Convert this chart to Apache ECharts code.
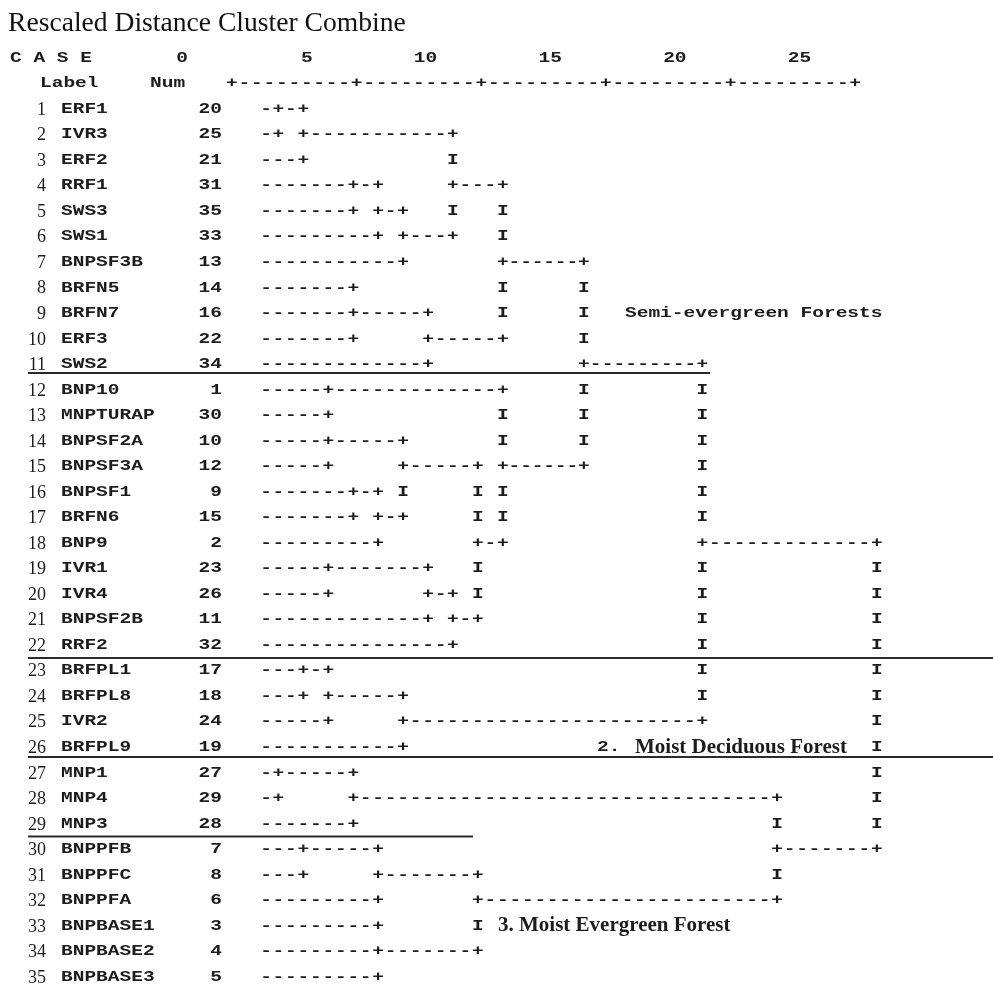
<!DOCTYPE html>
<html>
<head>
<meta charset="utf-8">
<script src="https://cdn.jsdelivr.net/npm/echarts@6/dist/echarts.min.js"></script>
<style>
html,body{margin:0;padding:0;background:#ffffff;}
#chart{width:993px;height:987px;}
</style>
</head>
<body>
<div id="chart"></div>
<script>
// ---------------- DATA ----------------
const caseLabels = ['ERF1','IVR3','ERF2','RRF1','SWS3','SWS1','BNPSF3B','BRFN5','BRFN7','ERF3','SWS2',
  'BNP10','MNPTURAP','BNPSF2A','BNPSF3A','BNPSF1','BRFN6','BNP9','IVR1','IVR4','BNPSF2B','RRF2',
  'BRFPL1','BRFPL8','IVR2','BRFPL9','MNP1','MNP4','MNP3','BNPPFB','BNPPFC','BNPPFA',
  'BNPBASE1','BNPBASE2','BNPBASE3'];
const caseNums = [20,25,21,31,35,33,13,14,16,22,34,1,30,10,12,9,15,2,23,26,11,32,17,18,24,19,27,29,28,7,8,6,3,4,5];

// agglomeration steps: cases (by row position) combined and rescaled distance of the join
const mergeA = [1,1,4,4,4,1,8,8,8,1,12,14,16,16,14,19,19,19,14,12,1,23,23,23,1,27,27,30,30,33,33,30,27,1];
const mergeB = [2,3,5,6,7,4,9,10,11,8,13,15,17,18,16,20,21,22,19,14,12,24,25,26,23,28,29,31,32,34,35,33,30,27];
const mergeDist = [0.5,1.5,3.5,4.5,5.5,7.5,3.5,3.5,6.5,9.5,2.5,2.5,3.5,4.5,5.5,2.5,6.5,7.5,8.5,9.5,
  12.75,1.5,2.5,5.5,17.5,0.5,3.5,1.5,4.5,4.5,4.5,8.5,20.5,24.5];

const tickValues = [0,5,10,15,20,25];
const tickLabels = ['0','5','10','15','20','25'];

const groupBreakRows = [11,22,26,29];
const noteRows = [9,26,26,33];
const noteTexts = ['Semi-evergreen Forests','2.','Moist Deciduous Forest','3. Moist Evergreen Forest'];

// ---------------- STYLE / LAYOUT ----------------
const INK = '#1c1c1c';
const MONO = 'bold 15px "Liberation Mono", "DejaVu Sans Mono", monospace';
const MONO_SX = 1.3;
const SERIF_N = 'normal 18px "Liberation Serif", "DejaVu Serif", serif';
const SERIF_B = 'bold 21px "Liberation Serif", "DejaVu Serif", serif';
const SCALE_SHIFT = 1.365;      // printed scale sits left of the case lines
const TICKLABEL_DX = -44;       // printed tick numbers sit left of their '+'
const sepEndX = [710, 993, 993, 473];
const sepDy = [-4, 0, -3, 0];
const noteX = [625, 597, 635, 498];
const noteFont = [MONO, MONO, SERIF_B, SERIF_B];
const noteSX = [MONO_SX, MONO_SX, 1, 1];

// ---------------- BUILD DENDROGRAM GLYPHS ----------------
function buildGlyphs() {
  const n = caseLabels.length;
  const owner = [];
  for (let r = 1; r <= n; r++) owner[r] = {out: r, end: null};
  const map = new Map();
  const put = (d, row, ch) => map.set(d.toFixed(4) + '|' + row, {d, row, ch});
  function horiz(c, d) {
    if (c.end === d) return;
    const start = c.end === null ? -0.5 : c.end;
    const nd = Math.round((d - start) / 0.5) - 1;
    const step = (d - start) / (nd + 1);
    for (let k = 1; k <= nd; k++) put(start + k * step, c.out, '-');
    put(d, c.out, '+');
  }
  mergeA.forEach((a, i) => {
    const b = mergeB[i], d = mergeDist[i];
    const A = owner[a], B = owner[b];
    const top = A.out < B.out ? A : B, bot = A.out < B.out ? B : A;
    horiz(top, d); horiz(bot, d);
    const root = i === mergeA.length - 1;
    const m = Math.floor((top.out + bot.out) / 2);
    for (let r = top.out + 1; r < bot.out; r++) put(d, r, (r === m && !root) ? '+' : 'I');
    const nc = {out: m, end: d};
    for (let r = 1; r <= n; r++) if (owner[r] === A || owner[r] === B) owner[r] = nc;
  });
  // printed scale line
  const lo = tickValues[0], hi = tickValues[tickValues.length - 1];
  for (let v = lo; v <= hi + 1e-9; v += 0.5) {
    const isTick = tickValues.indexOf(v) >= 0;
    put(v - SCALE_SHIFT, 0, isTick ? '+' : '-');
  }
  return Array.from(map.values());
}
const glyphs = buildGlyphs();

function txt(x, y, s, font, align, sx) {
  return {
    type: 'text', x: x, y: y, scaleX: sx || 1,
    style: {text: s, font: font, fill: INK,
      textAlign: align || 'center', textVerticalAlign: 'middle',
      align: align || 'center', verticalAlign: 'middle'}
  };
}

const chart = echarts.init(document.getElementById('chart'), null, {renderer: 'canvas'});
chart.setOption({
  animation: false,
  backgroundColor: '#ffffff',
  title: {
    text: 'Rescaled Distance Cluster Combine',
    left: 8, top: 10, padding: 0,
    textStyle: {fontFamily: '"Liberation Serif", "DejaVu Serif", serif', fontSize: 27.6, fontWeight: 'normal', color: '#111'}
  },
  grid: {left: 216.14, right: 103.75, top: 45.2, bottom: 10},
  xAxis: {type: 'value', min: -2, max: 25, show: false},
  yAxis: {type: 'value', min: -1.5, max: 35, inverse: true, show: false},
  series: [
    {
      type: 'custom', silent: true,
      data: glyphs.map(g => [g.d, g.row]),
      renderItem: function (params, api) {
        const p = api.coord([api.value(0), api.value(1)]);
        return txt(p[0], p[1], glyphs[params.dataIndex].ch, MONO, 'center', MONO_SX);
      }
    },
    {
      type: 'custom', silent: true,
      data: caseLabels.map((l, i) => [0, i + 1]),
      renderItem: function (params, api) {
        const i = params.dataIndex;
        const y = api.coord([0, api.value(1)])[1];
        return {type: 'group', children: [
          txt(46, y + 1, String(i + 1), SERIF_N, 'right', 1),
          txt(61, y, caseLabels[i], MONO, 'left', MONO_SX),
          txt(222, y, String(caseNums[i]), MONO, 'right', MONO_SX)
        ]};
      }
    },
    {
      type: 'custom', silent: true,
      data: tickValues.map(v => [v - SCALE_SHIFT, -1]),
      renderItem: function (params, api) {
        const p = api.coord([api.value(0), api.value(1)]);
        const kids = [txt(p[0] + TICKLABEL_DX, p[1], tickLabels[params.dataIndex], MONO, 'right', MONO_SX)];
        if (params.dataIndex === 0) {
          const y0 = api.coord([0, 0])[1];
          kids.push(txt(10, p[1], 'C A S E', MONO, 'left', MONO_SX));
          kids.push(txt(40, y0, 'Label', MONO, 'left', MONO_SX));
          kids.push(txt(150, y0, 'Num', MONO, 'left', MONO_SX));
        }
        return {type: 'group', children: kids};
      }
    },
    {
      type: 'custom', silent: true,
      data: groupBreakRows.map(r => [0, r + 0.5]),
      renderItem: function (params, api) {
        const i = params.dataIndex;
        const y = api.coord([0, api.value(1)])[1] + sepDy[i];
        return {type: 'line', shape: {x1: 28, y1: y, x2: sepEndX[i], y2: y},
          style: {stroke: '#2a2a2a', lineWidth: 2}};
      }
    },
    {
      type: 'custom', silent: true,
      data: noteRows.map(r => [0, r]),
      renderItem: function (params, api) {
        const i = params.dataIndex;
        const y = api.coord([0, api.value(1)])[1];
        return txt(noteX[i], y, noteTexts[i], noteFont[i], 'left', noteSX[i]);
      }
    }
  ]
});
</script>
</body>
</html>
